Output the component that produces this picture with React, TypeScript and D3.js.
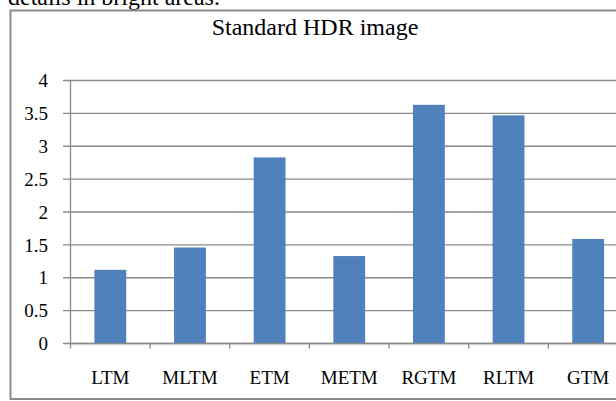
import React from "react";
import * as d3 from "d3";

const categories = ["LTM", "MLTM", "ETM", "METM", "RGTM", "RLTM", "GTM"];
const values = [1.12, 1.46, 2.83, 1.33, 3.63, 3.47, 1.59];
const yTicks = [0, 0.5, 1, 1.5, 2, 2.5, 3, 3.5, 4];
const yTickLabels = ["0", "0.5", "1", "1.5", "2", "2.5", "3", "3.5", "4"];
const title = "Standard HDR image";
const caption = "details in bright areas.";

const W = 616;
const H = 401;
const FONT = "'Liberation Serif', 'Times New Roman', serif";

export default function App() {
  const x0 = 70.5;
  const x1 = 628;
  const yTop = 80.5;
  const yBot = 343.5;

  const band = d3.scaleBand<string>().domain(categories).range([x0, x1]).padding(0);
  const barBand = d3
    .scaleBand<string>()
    .domain(categories)
    .range([x0, x1])
    .paddingInner(0.6)
    .paddingOuter(0.3);
  const y = d3.scaleLinear().domain([0, 4]).range([yBot, yTop]);

  const grid = "#8a8a8a";

  return (
    <svg
      width={W}
      height={H}
      style={{ position: "absolute", left: 0, top: 0, background: "#fff" }}
      fontFamily={FONT}
    >
      <rect x={0} y={0} width={W} height={H} fill="#fff" />
      <text x={8} y={5} fontSize={24} fill="#000">
        {caption}
      </text>
      {/* frame */}
      <rect
        x={10.5}
        y={10.5}
        width={W + 20}
        height={388.5}
        fill="#fff"
        stroke="#8c8c8c"
        strokeWidth={2}
      />
      <text x={315} y={35} fontSize={24} textAnchor="middle" fill="#000">
        {title}
      </text>
      {/* gridlines */}
      {yTicks.map((t, i) => (
        <g key={"g" + i}>
          <line x1={63} x2={W + 10} y1={y(t)} y2={y(t)} stroke={grid} strokeWidth={1.3} />
          <text
            x={48}
            y={y(t)}
            dy="0.35em"
            fontSize={19}
            textAnchor="end"
            fill="#000"
          >
            {yTickLabels[i]}
          </text>
        </g>
      ))}
      {/* bars */}
      {categories.map((c, i) => (
        <rect
          key={"b" + c}
          x={barBand(c)}
          y={y(values[i])}
          width={barBand.bandwidth()}
          height={y(0) - y(values[i])}
          fill="#4F81BD"
        />
      ))}
      {/* axes */}
      <line x1={x0} x2={x0} y1={yTop} y2={yBot + 5} stroke={grid} strokeWidth={1.3} />
      <line x1={x0} x2={W + 10} y1={yBot} y2={yBot} stroke={grid} strokeWidth={1.3} />
      {categories.map((c) => (
        <line
          key={"t" + c}
          x1={(band(c) as number) + band.bandwidth()}
          x2={(band(c) as number) + band.bandwidth()}
          y1={yBot}
          y2={yBot + 5}
          stroke={grid}
          strokeWidth={1.3}
        />
      ))}
      {categories.map((c) => (
        <text
          key={"l" + c}
          x={(band(c) as number) + band.bandwidth() / 2}
          y={384}
          fontSize={19}
          textAnchor="middle"
          fill="#000"
        >
          {c}
        </text>
      ))}
    </svg>
  );
}
